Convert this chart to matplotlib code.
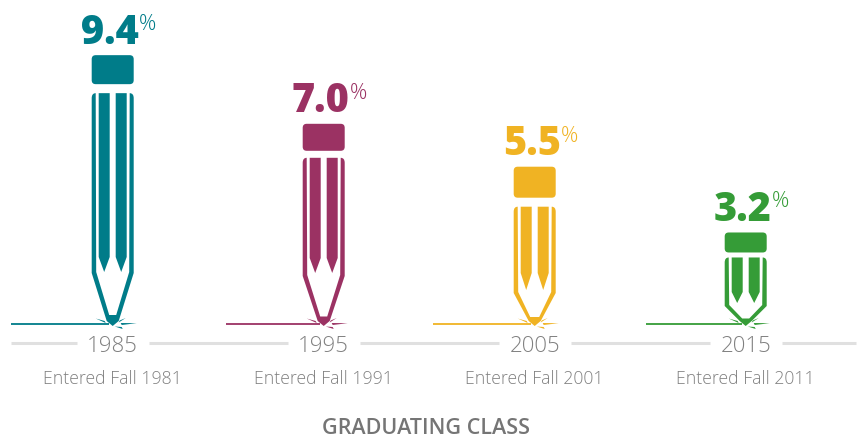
import matplotlib
matplotlib.use("Agg")
import matplotlib.pyplot as plt
from matplotlib.patches import PathPatch, Polygon
from matplotlib.path import Path

years = ["1985", "1995", "2005", "2015"]
entered = ["Entered Fall 1981", "Entered Fall 1991", "Entered Fall 2001", "Entered Fall 2011"]
values = [9.4, 7.0, 5.5, 3.2]
colors = ["#007C89", "#9B3263", "#F0B323", "#359C37"]

# pencil proportions differ per bar (pixels)
cap_heights = [29, 27, 31, 20]
cap_gaps = [9, 7, 9, 5]
taper_heights = [51, 48, 31, 18]
inner_tips = [9, 7.5, 7, 5.5]
inner_widths = [3.5, 3.5, 4.5, 3.5]
stripe_ends = [52, 51, 34, 21]
stripe_drops = [15, 15, 17, 11]
line_starts = [-102, -98, -102, -100]

PX_X = 211.0   # pixels per category
PX_Y = 28.6    # pixels per percentage point
GREY = "#808080"


def pt(i, u, h):
    # u = pixels right of the pencil centre, h = pixels above the baseline
    return (i + u / PX_X, h / PX_Y)


fig = plt.figure(figsize=(8.61, 4.38), dpi=100)
ax = fig.add_axes([0, 0, 1, 1])
ax.set_xlim(-112.7 / PX_X, (861 - 112.7) / PX_X)
ax.set_ylim(-114 / PX_Y, 324 / PX_Y)
ax.axis("off")


def rounded_rect(i, left, right, bottom, top, r, color):
    verts = [(left + r, top), (right - r, top), (right, top), (right, top - r),
             (right, bottom + r), (right, bottom), (right - r, bottom),
             (left + r, bottom), (left, bottom), (left, bottom + r),
             (left, top - r), (left, top), (left + r, top), (left + r, top)]
    codes = [Path.MOVETO, Path.LINETO, Path.CURVE3, Path.CURVE3,
             Path.LINETO, Path.CURVE3, Path.CURVE3,
             Path.LINETO, Path.CURVE3, Path.CURVE3,
             Path.LINETO, Path.CURVE3, Path.CURVE3, Path.CLOSEPOLY]
    path = Path([pt(i, u, h) for u, h in verts], codes)
    ax.add_patch(PathPatch(path, facecolor=color, edgecolor="none"))


def outline(i, top, taper, inner, width, color):
    verts = [(-17, top), (-21, top), (-21, top - 5), (-21, taper), (-6, 3), (0, -2), (6, 3),
             (21, taper), (21, top - 5), (21, top), (17, top),
             (16.5, taper + 1), (width, inner), (-width, inner), (-16.5, taper + 1),
             (-17, top)]
    codes = [Path.MOVETO, Path.CURVE3, Path.CURVE3, Path.LINETO, Path.LINETO, Path.LINETO, Path.LINETO,
             Path.LINETO, Path.LINETO, Path.CURVE3, Path.CURVE3,
             Path.LINETO, Path.LINETO, Path.LINETO, Path.LINETO, Path.CLOSEPOLY]
    path = Path([pt(i, u, h) for u, h in verts], codes)
    ax.add_patch(PathPatch(path, facecolor=color, edgecolor="none"))


for i, v in enumerate(values):
    c = colors[i]
    top = v * PX_Y
    cap_bottom = top - cap_heights[i]
    body_top = cap_bottom - cap_gaps[i]

    rounded_rect(i, -21, 21, cap_bottom, top, 4, c)
    outline(i, body_top, taper_heights[i], inner_tips[i], inner_widths[i], c)

    # the two lead stripes
    end = stripe_ends[i]
    shoulder = end + stripe_drops[i]
    for a, b in [(-14, -3), (3, 14)]:
        shape = [(a, body_top), (b, body_top), (b, shoulder), ((a + b) / 2, end), (a, shoulder)]
        ax.add_patch(Polygon([pt(i, u, h) for u, h in shape], facecolor=c, edgecolor="none"))

    # line being drawn + little sparks at the tip
    x0, y0 = pt(i, line_starts[i], 0)
    x1, _ = pt(i, -4, 0)
    ax.plot([x0, x1], [y0, y0], color=c, lw=1.3, solid_capstyle="butt")
    for spark in [[(-17, 5.5), (-7, 1), (-8, 3)],
                  [(13, 6), (6, 1.5), (7, 3.5)],
                  [(24, 0.8), (8, 1), (9, -1)],
                  [(2, -2.5), (10, -5), (9, -3)]]:
        ax.add_patch(Polygon([pt(i, u, h) for u, h in spark], facecolor=c, edgecolor="none"))

    # value label
    x, y = pt(i, 26, top + 11.5)
    ax.text(x, y, "%.1f" % v, color=c, fontsize=28.5, fontweight=800, family="Open Sans",
            ha="right", va="baseline")
    x, y = pt(i, 26, top + 25)
    ax.text(x, y, "%", color=c, fontsize=15.5, family="Open Sans", fontweight="light",
            ha="left", va="baseline")

    # tick labels
    x, y = pt(i, 0, -28)
    ax.text(x, y, years[i], color=GREY, fontsize=16, family="Open Sans", fontweight="light",
            ha="center", va="baseline")
    x, y = pt(i, 0, -60)
    ax.text(x, y, entered[i], color=GREY, fontsize=12.7, family="Open Sans", fontweight="light",
            ha="center", va="baseline")

# grey axis, broken around the years
axis_y = -19 / PX_Y
for i in range(len(years) - 1):
    ax.plot([i + 36 / PX_X, i + 1 - 36 / PX_X], [axis_y, axis_y], color="#E0E0E0", lw=2.2,
            solid_capstyle="butt")
ax.plot([-102 / PX_X, -36 / PX_X], [axis_y, axis_y], color="#E0E0E0", lw=2.2, solid_capstyle="butt")
ax.plot([3 + 36 / PX_X, 3 + 110 / PX_X], [axis_y, axis_y], color="#E0E0E0", lw=2.2, solid_capstyle="butt")

x, y = pt(1.5, -3, -110)
ax.text(x, y, "GRADUATING CLASS", color="#757575", fontsize=15.5, family="Open Sans", fontweight="semibold",
        ha="center", va="baseline")

fig.savefig("out.png", dpi=100)
